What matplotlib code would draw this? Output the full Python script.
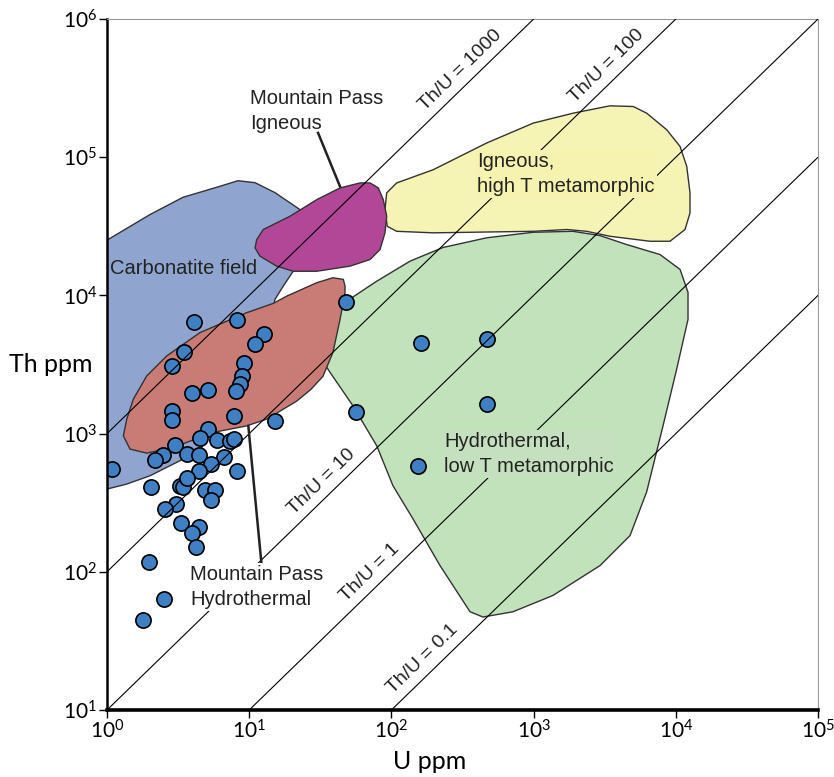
import numpy as np
import matplotlib
matplotlib.use('Agg')
import matplotlib.pyplot as plt
from matplotlib.patches import Polygon
from matplotlib.ticker import LogLocator, LogFormatterMathtext, NullLocator
import matplotlib.transforms as mtransforms

plt.rcParams['font.family'] = ['Liberation Sans', 'DejaVu Sans']
plt.rcParams['mathtext.fontset'] = 'custom'
plt.rcParams['mathtext.rm'] = 'Lato'

# samples, U ppm and Th ppm
u_ppm = [4.09, 8.25, 12.7, 10.9, 3.48, 2.85, 9.25, 8.94, 8.61, 8.14,
         3.93, 5.13, 2.85, 2.85, 7.85, 15.3, 5.15, 4.51, 5.97, 7.38,
         7.85, 3.02, 2.46, 2.19, 1.08, 3.67, 4.47, 6.63, 5.39, 4.46,
         8.18, 2.04, 3.24, 3.42, 3.68, 4.89, 5.75, 5.39, 3.08, 2.56,
         3.33, 4.47, 3.94, 4.23, 1.97, 2.53, 1.80, 47.7,
         161, 472, 472, 56.4, 153]
th_ppm = [6460, 6630, 5260, 4450, 3920, 3100, 3250, 2620, 2280, 2020,
          1960, 2085, 1466, 1250, 1343, 1236, 1072, 925, 902, 890,
          917, 829, 702, 640, 558, 709, 700, 673, 602, 539,
          538, 413, 421, 409, 477, 389, 393, 331, 310, 287,
          225, 210, 190, 151, 117, 63.8, 44.5, 8950,
          4500, 4810, 1633, 1437, 586]

# field outlines, as log10(U), log10(Th)
carbonatite_log = [(0.00, 4.400), (0.302, 4.585), (0.534, 4.710), (0.795, 4.790),
                   (0.921, 4.830), (1.041, 4.816), (1.181, 4.744), (1.357, 4.621),
                   (1.498, 4.491), (1.392, 4.296), (1.308, 4.173), (1.238, 4.065),
                   (1.181, 3.971), (1.160, 3.863), (0.935, 3.394), (0.654, 2.876),
                   (0.560, 2.828), (0.420, 2.756), (0.302, 2.695), (0.139, 2.635),
                   (0.00, 2.599)]
mp_hydro_log = [(1.662, 4.116), (1.589, 4.128), (1.475, 4.092), (1.264, 3.995),
                (1.169, 3.942), (0.982, 3.875), (0.654, 3.731), (0.420, 3.562),
                (0.279, 3.417), (0.185, 3.249), (0.139, 3.105), (0.115, 2.984),
                (0.162, 2.888), (0.279, 2.859), (0.466, 2.900), (0.748, 3.009),
                (0.982, 3.056), (1.123, 3.105), (1.334, 3.235), (1.435, 3.321),
                (1.519, 3.415), (1.589, 3.588), (1.639, 3.827), (1.674, 4.022),
                (1.674, 4.067)]
mp_igneous_log = [(1.053, 4.404), (1.099, 4.477), (1.287, 4.573), (1.475, 4.693),
                  (1.639, 4.778), (1.779, 4.814), (1.850, 4.814), (1.908, 4.778),
                  (1.943, 4.693), (1.967, 4.573), (1.955, 4.453), (1.920, 4.332),
                  (1.850, 4.260), (1.709, 4.212), (1.475, 4.175), (1.310, 4.175),
                  (1.193, 4.212), (1.076, 4.284), (1.041, 4.344)]
igneous_log = [(1.967, 4.742), (2.037, 4.814), (2.295, 4.910), (2.670, 5.103),
               (2.998, 5.247), (3.279, 5.319), (3.537, 5.372), (3.701, 5.367),
               (3.795, 5.319), (3.936, 5.199), (4.030, 5.078), (4.077, 4.934),
               (4.100, 4.742), (4.100, 4.597), (4.065, 4.477), (3.959, 4.392),
               (3.819, 4.392), (3.537, 4.428), (3.373, 4.464), (3.233, 4.477),
               (2.998, 4.464), (2.295, 4.453), (2.037, 4.464), (1.971, 4.500),
               (1.955, 4.621)]
hydro_log = [(1.679, 3.952), (1.721, 3.983), (1.897, 4.103), (2.131, 4.248),
             (2.363, 4.347), (2.670, 4.417), (2.996, 4.457), (3.277, 4.464),
             (3.467, 4.433), (3.655, 4.368), (3.889, 4.296), (4.030, 4.188),
             (4.086, 4.022), (4.086, 3.827), (4.006, 3.466), (3.910, 3.056),
             (3.795, 2.578), (3.678, 2.262), (3.467, 2.045), (3.136, 1.829),
             (2.855, 1.711), (2.644, 1.673), (2.553, 1.711), (2.342, 2.045),
             (2.152, 2.383), (2.011, 2.623), (1.897, 2.912), (1.730, 3.201),
             (1.568, 3.444), (1.510, 3.538), (1.533, 3.661), (1.615, 3.850)]

ratios = [1000, 100, 10, 1, 0.1]
ratio_labels = ['Th/U = 1000', 'Th/U = 100', 'Th/U = 10', 'Th/U = 1', 'Th/U = 0.1']
ratio_label_u = [360, 3830, 38, 83, 196]

fig = plt.figure(figsize=(8.34, 7.77), dpi=100)
ax = fig.add_axes([0.1283, 0.0862, 0.8525, 0.8893])
ax.set_xscale('log')
ax.set_yscale('log')
ax.set_xlim(1, 1e5)
ax.set_ylim(10, 1e6)

# fields, back to front
fields = [(carbonatite_log, '#8fa4cf', 1.0),
          (hydro_log, '#c1e2ba', 1.1),
          (igneous_log, '#f6f4b5', 1.2),
          (mp_hydro_log, '#c97c75', 1.3),
          (mp_igneous_log, '#b34797', 1.4)]
for pts, col, z in fields:
    xy = 10 ** np.array(pts)
    ax.add_patch(Polygon(xy, closed=True, fc=col, ec='#333333', lw=1.0, zorder=z))

ax.scatter(u_ppm, th_ppm, s=120, c='#3f7fc4', edgecolors='black', linewidths=1.2, zorder=2)

# Th/U reference lines
u_line = np.array([1, 1e5])
for r in ratios:
    ax.plot(u_line, r * u_line, color='black', lw=0.8, zorder=3)

fig.canvas.draw()
p0 = ax.transData.transform((1, 1))
p1 = ax.transData.transform((10, 10))
ang = np.degrees(np.arctan2(p1[1] - p0[1], p1[0] - p0[0]))
gap = 6
off = mtransforms.offset_copy(ax.transData, fig=fig, units='dots',
                              x=-gap * np.sin(np.radians(ang)),
                              y=gap * np.cos(np.radians(ang)))
for r, lab, u in zip(ratios, ratio_labels, ratio_label_u):
    ax.text(u, r * u, lab, transform=off, rotation=ang, rotation_mode='anchor',
            ha='center', va='bottom', fontsize=14, color='#222222', zorder=4)

# field names
txt = dict(fontsize=14.5, color='#222222', ha='left', va='center', linespacing=1.4, zorder=6)
ax.text(1.05, 1.57e4, 'Carbonatite field', **txt)
ax.text(10.1, 2.17e5, 'Mountain Pass\nIgneous', **txt)
ax.text(400, 7.6e4, 'Igneous,\nhigh T metamorphic',
        bbox=dict(boxstyle='square,pad=0.1', fc='#f6f2b0', ec='none'), **txt)
ax.text(234, 711, 'Hydrothermal,\nlow T metamorphic',
        bbox=dict(boxstyle='square,pad=0.1', fc='#c5e0bf', ec='none'), **txt)
ax.text(3.84, 78, 'Mountain Pass\nHydrothermal',
        bbox=dict(boxstyle='square,pad=0.1', fc='white', ec='none'), **txt)

# leader lines
ax.plot([30.5, 43.5], [1.5e5, 6.15e4], color='#222222', lw=1.8, zorder=5)
ax.plot([9.86, 12.2], [1137, 114], color='#222222', lw=1.8, zorder=5)

# axes styling
ax.xaxis.set_major_locator(LogLocator(base=10, numticks=10))
ax.yaxis.set_major_locator(LogLocator(base=10, numticks=10))
ax.xaxis.set_minor_locator(NullLocator())
ax.yaxis.set_minor_locator(NullLocator())
ax.xaxis.set_major_formatter(LogFormatterMathtext())
ax.yaxis.set_major_formatter(LogFormatterMathtext())
ax.tick_params(direction='out', length=6, width=1, labelsize=15, pad=1)
for t in ax.get_xticklabels() + ax.get_yticklabels():
    t.set_family('Lato')

ax.spines['left'].set_linewidth(1.8)
ax.spines['bottom'].set_linewidth(2.6)
for s in ['top', 'right']:
    ax.spines[s].set_linewidth(0.8)
    ax.spines[s].set_color('#999999')

ax.set_xlabel('U ppm', fontsize=18, family='Lato', va='center')
ax.set_ylabel('Th ppm', fontsize=18, family='Lato', rotation=0, ha='center', va='center')
ax.xaxis.set_label_coords(0.454, -0.075)
ax.yaxis.set_label_coords(-0.079, 0.50)

fig.savefig('out.png', dpi=100)
